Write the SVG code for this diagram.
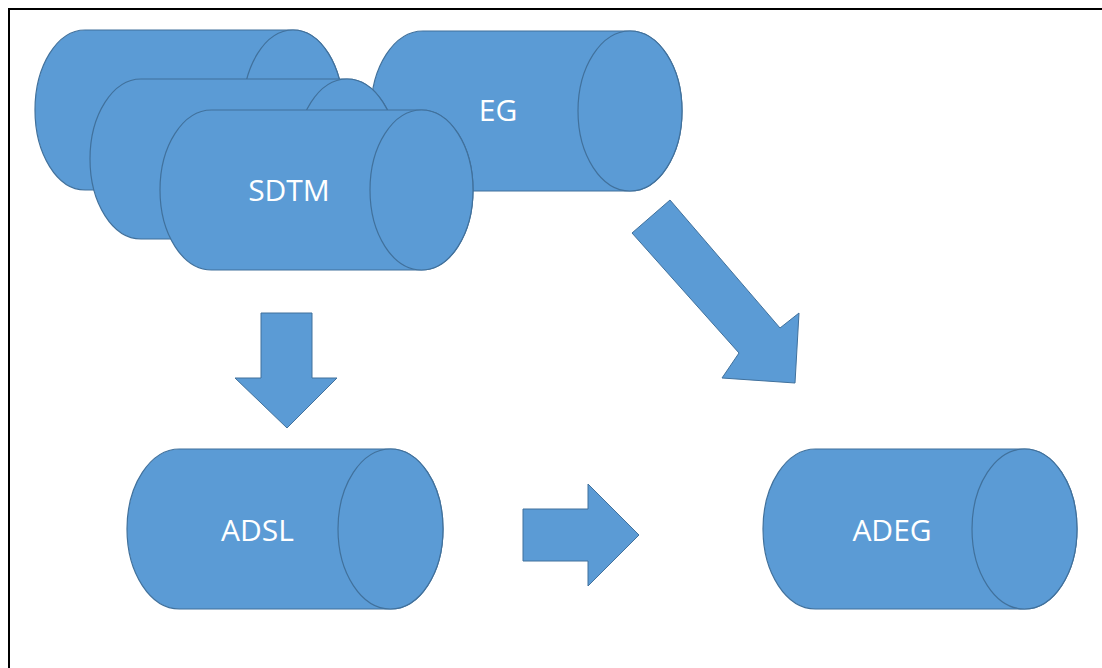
<svg xmlns="http://www.w3.org/2000/svg" width="1102" height="668" viewBox="0 0 1102 668">
<style>
.cyl{fill:#5B9BD5;stroke:#41719C;stroke-width:1.2}
.cap{fill:#5B9BD5;stroke:#41719C;stroke-width:1.2}
.arr{fill:#5B9BD5;stroke:#41719C;stroke-width:1}
.lbl{font-family:"Open Sans","Noto Sans",sans-serif;font-size:30px;fill:#FFFFFF;text-anchor:middle}
</style>
<rect width="1102" height="668" fill="#FFFFFF"/>
<g id="frame">
<line x1="8" y1="9" x2="1102" y2="9" stroke="#000" stroke-width="2"/>
<line x1="9" y1="8" x2="9" y2="668" stroke="#000" stroke-width="2"/>
</g>
<g id="back-cylinder">
<path class="cyl" d="M85,30 H293 A50,80 0 0 1 293,190 H85 A50,80 0 0 1 85,30 Z"/>
<ellipse class="cap" cx="293" cy="110" rx="50" ry="80"/>
</g>
<g id="eg">
<path class="cyl" d="M423,31 H630 A52,80 0 0 1 630,191 H423 A52,80 0 0 1 423,31 Z"/>
<ellipse class="cap" cx="630" cy="111" rx="52" ry="80"/>
<text class="lbl" x="498" y="121">EG</text>
</g>
<g id="middle-cylinder">
<path class="cyl" d="M141,79 H347 A51,80 0 0 1 347,239 H141 A51,80 0 0 1 141,79 Z"/>
<ellipse class="cap" cx="347" cy="159" rx="51" ry="80"/>
</g>
<g id="sdtm">
<path class="cyl" d="M211.5,110 H421.5 A51.5,80 0 0 1 421.5,270 H211.5 A51.5,80 0 0 1 211.5,110 Z"/>
<ellipse class="cap" cx="421.5" cy="190" rx="51.5" ry="80"/>
<text class="lbl" x="289" y="201">SDTM</text>
</g>
<g id="adsl">
<path class="cyl" d="M179.5,449 H390.5 A52.5,80 0 0 1 390.5,609 H179.5 A52.5,80 0 0 1 179.5,449 Z"/>
<ellipse class="cap" cx="390.5" cy="529" rx="52.5" ry="80"/>
<text class="lbl" x="257.5" y="541">ADSL</text>
</g>
<g id="adeg">
<path class="cyl" d="M815.5,449 H1024.5 A52.5,80 0 0 1 1024.5,609 H815.5 A52.5,80 0 0 1 815.5,449 Z"/>
<ellipse class="cap" cx="1024.5" cy="529" rx="52.5" ry="80"/>
<text class="lbl" x="892" y="541">ADEG</text>
</g>
<g id="connectors">
<polygon class="arr" points="261,313 312,313 312,378 337,378 287,428 235,378 261,378"/>
<polygon class="arr" points="523,509 588,509 588,484 639,535 588,586 588,561 523,561"/>
<polygon class="arr" points="632,233 670,200 780,328 799,313 795,383 722,378 739,353"/>
</g>
</svg>
